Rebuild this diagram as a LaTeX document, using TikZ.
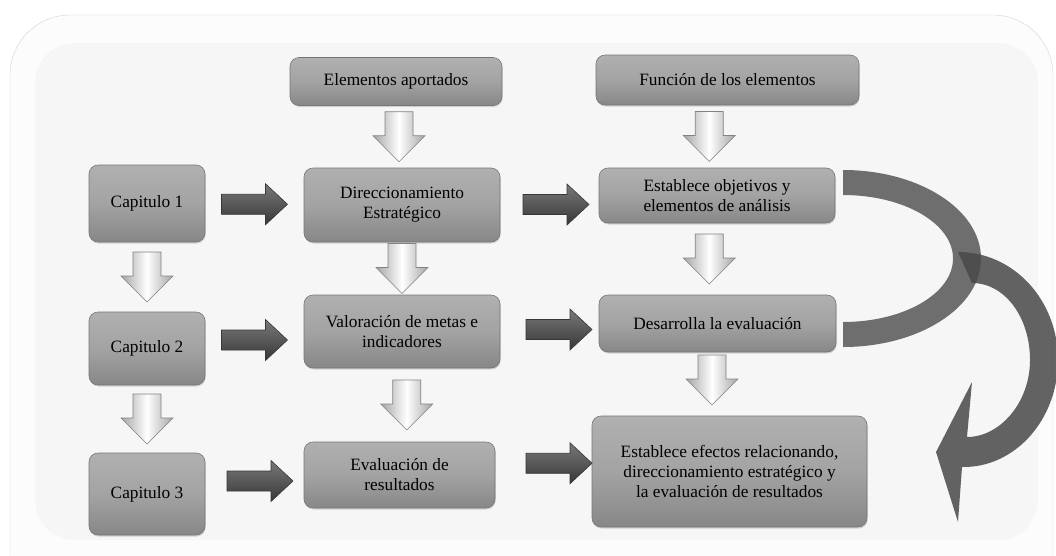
\documentclass[tikz,border=0pt]{standalone}
\usepackage{fontspec}
\setmainfont{Liberation Serif}
\usetikzlibrary{calc,shadows}
\definecolor{bxtop}{RGB}{176,176,176}
\definecolor{bxmid}{RGB}{163,163,163}
\definecolor{bxbot}{RGB}{135,135,135}
\definecolor{bxline}{RGB}{118,118,118}
\definecolor{dartop}{RGB}{120,120,120}
\definecolor{darmid}{RGB}{88,88,88}
\definecolor{darbot}{RGB}{55,55,55}
\definecolor{lightline}{RGB}{130,130,130}
\definecolor{lightedge}{RGB}{165,165,165}
\definecolor{bandone}{RGB}{110,110,110}
\definecolor{bandtwo}{RGB}{73,73,73}
\definecolor{panelout}{RGB}{252,252,252}
\definecolor{panelin}{RGB}{246,246,246}
\definecolor{paneledge}{RGB}{212,212,212}
\begin{document}
\begin{tikzpicture}[x=1pt,y=-1pt,
  box/.style={draw=bxline, line width=0.6pt, rounded corners=9pt,
    top color=bxtop, bottom color=bxbot, middle color=bxmid,
    align=center, font=\fontsize{17.3}{20}\selectfont, inner sep=2pt,
    drop shadow={shadow xshift=0.6pt,shadow yshift=-1.5pt,opacity=0.3}},
  darrow/.style={draw=lightline, line width=0.6pt,
    left color=lightedge, right color=lightedge, middle color=white},
  rarrow/.style={draw=darbot, line width=0.6pt,
    top color=dartop, bottom color=darbot, middle color=darmid},
  downarr/.pic={\path[darrow] (-14,-25) -- (14,-25) -- (14,-1) -- (26,-1) -- (0,25) -- (-26,-1) -- (-14,-1) -- cycle;},
  rightarr/.pic={\path[rarrow] (-33,-10) -- (11,-10) -- (11,-20.5) -- (33,0) -- (11,20.5) -- (11,10) -- (-33,10) -- cycle;}
]
\useasboundingbox (0,0) rectangle (1056,555);
% background panel
\fill[white] (0,0) rectangle (1056,555);
\draw[paneledge, fill=panelout, rounded corners=60pt] (10,15) rectangle (1053,620);
\fill[panelin, rounded corners=40pt] (35,43) rectangle (1038,540);

% nodes
\node[box, minimum width=212pt, minimum height=48pt] (ele) at (396,81.5) {Elementos aportados};
\node[box, minimum width=263pt, minimum height=50pt] (fun) at (727.5,80) {Función de los elementos};
\node[box, minimum width=116pt, minimum height=77pt] (cap1) at (147,203.5) {Capitulo 1};
\node[box, minimum width=196pt, minimum height=74pt] (dir) at (402,205) {Direccionamiento\\Estratégico};
\node[box, minimum width=236pt, minimum height=55pt] (est) at (717,195.5) {Establece objetivos y\\elementos de análisis};
\node[box, minimum width=116pt, minimum height=73pt] (cap2) at (147,348.5) {Capitulo 2};
\node[box, minimum width=196pt, minimum height=73pt] (val) at (402,331.5) {Valoración de metas e\\indicadores};
\node[box, minimum width=237pt, minimum height=57pt] (des) at (717.5,323.5) {Desarrolla la evaluación};
\node[box, minimum width=116pt, minimum height=82pt] (cap3) at (147,494) {Capitulo 3};
\node[box, minimum width=191pt, minimum height=66pt] (eva) at (399.5,475) {Evaluación de\\resultados};
\node[box, minimum width=275pt, minimum height=111pt] (efe) at (729.5,471.5) {Establece efectos relacionando,\\direccionamiento estratégico y\\la evaluación de resultados};

% down arrows
\pic at ($(ele.south)!0.5!(dir.north)$) {downarr};
\pic[xshift=-13pt] at ($(fun.south)!0.5!(est.north)$) {downarr};
\pic at ($(cap1.south)!0.5!(cap2.north)$) {downarr};
\pic at ($(dir.south)!0.5!(val.north)$) {downarr};
\pic[xshift=-8pt] at ($(est.south)!0.5!(des.north)$) {downarr};
\pic at ($(cap2.south)!0.5!(cap3.north)$) {downarr};
\pic[xshift=6pt] at ($(val.south)!0.5!(eva.north)$) {downarr};
\pic[xshift=-11.5pt, yshift=4pt] at ($(des.south)!0.5!(efe.north)$) {downarr};

% right arrows
\pic at ($(cap1.east)!0.5!(dir.west)$) {rightarr};
\pic[xshift=6.5pt, yshift=-4.25pt] at ($(dir.east)!0.5!(est.west)$) {rightarr};
\pic at ($(cap2.east)!0.5!(val.west)$) {rightarr};
\pic[xshift=9.5pt, yshift=-2pt] at ($(val.east)!0.5!(des.west)$) {rightarr};
\pic[xshift=5.5pt, yshift=3.5pt] at ($(cap3.east)!0.5!(eva.west)$) {rightarr};
\pic[xshift=15.5pt, yshift=10pt] at ($(eva.east)!0.5!(efe.west)$) {rightarr};

% curved band from objectives to evaluation
\fill[bandone] (843,170) .. controls (919.2,170) and (981,209.6) .. (981,258.5)
  .. controls (981,307.4) and (919.2,347) .. (843,347) -- (843,322)
  .. controls (903.75,322) and (953,293.6) .. (953,258.5)
  .. controls (953,223.4) and (903.75,195) .. (843,195) -- cycle;
% curved arrow down to the effects box
\fill[bandtwo, opacity=0.85] (958,252) .. controls (1014,252) and (1058,300.4) .. (1058,360)
  .. controls (1058,419.6) and (1015,468) .. (962,467)
  -- (958,522) -- (936,452) -- (972,382) -- (967,437)
  .. controls (1000,437) and (1030,402.5) .. (1030,360)
  .. controls (1030,317.5) and (1005,283) .. (972,283) -- cycle;
\end{tikzpicture}
\end{document}
